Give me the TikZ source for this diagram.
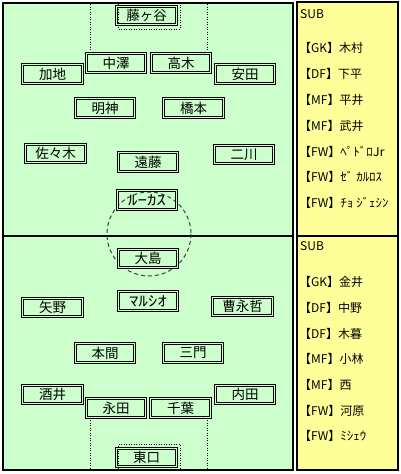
\documentclass[tikz,border=0pt]{standalone}
\usepackage{fontspec}
\usepackage{graphicx}
\setmainfont{Noto Sans CJK JP}
\definecolor{pitch}{HTML}{CCFFCC}
\definecolor{bench}{HTML}{FFFF99}
\newcommand{\hwide}[1]{\scalebox{1.4}[1.05]{#1}}
\newcommand{\hside}[1]{\scalebox{1.08}[1]{#1}}
\begin{document}
\begin{tikzpicture}[x=1pt,y=-1pt,
  player/.style={draw, line width=0.9pt, double=pitch, double distance=1.4pt,
    minimum width=59.5pt, minimum height=18.5pt, inner sep=0pt, outer sep=0pt,
    font=\fontsize{13.5}{13.5}\selectfont},
  subline/.style={anchor=west, inner sep=0pt, font=\fontsize{12}{12}\selectfont},
  panel/.style={draw, line width=2pt},
  pitchline/.style={line width=0.8pt, dash pattern=on 1pt off 1.5pt},
  circleline/.style={line width=1pt, draw=black!75, dash pattern=on 4pt off 3pt}]
\useasboundingbox (0,0) rectangle (400,474);
% panels
\draw[panel, fill=pitch] (3,3) rectangle (293,470);
\draw[line width=2pt] (3,236) -- (293,236);
\draw[panel, fill=bench] (297,2) rectangle (398,236);
\draw[panel, fill=bench] (297,236) rectangle (398,470);
% pitch markings
\draw[pitchline] (90.5,4) -- (90.5,52);
\draw[pitchline] (207,4) -- (207,52);
\draw[pitchline] (118.5,4) -- (118.5,29) -- (180,29) -- (180,4);
\draw[pitchline] (90.5,420) -- (90.5,469);
\draw[pitchline] (207,420) -- (207,469);
\draw[pitchline] (118.5,469) -- (118.5,444) -- (180,444) -- (180,469);
\draw[circleline] (149,234) circle[radius=42];
% top team
\node[player] (fujigaya) at (146.5,15.5) {藤ヶ谷};
\node[player] (nakazawa) at (116,63) {中澤};
\node[player] (takagi) at (181,63) {高木};
\node[player] (kaji) at (52.5,74) {加地};
\node[player] (yasuda) at (245,74) {安田};
\node[player] (myojin) at (105,108) {明神};
\node[player] (hashimoto) at (193.5,108) {橋本};
\node[player] (sasaki) at (55.5,153.5) {佐々木};
\node[player] (endo) at (148,162) {遠藤};
\node[player] (futagawa) at (244,154.5) {二川};
\node[player] (lucas) at (147,200) {\hwide{ﾙｰｶｽ}};
% bottom team
\node[player] (oshima) at (148,258.5) {大島};
\node[player] (marcio) at (148,301) {\hwide{ﾏﾙｼｵ}};
\node[player] (yano) at (52.5,307.5) {矢野};
\node[player] (so) at (242.5,306.5) {曹永哲};
\node[player] (honma) at (105,353) {本間};
\node[player] (sanmon) at (193,353) {三門};
\node[player] (sakai) at (52.5,394.5) {酒井};
\node[player] (uchida) at (245,394.5) {内田};
\node[player] (nagata) at (116,408) {永田};
\node[player] (chiba) at (180.5,408) {千葉};
\node[player] (higashiguchi) at (146.5,457.5) {東口};
% substitutes top
\node[subline] (subA) at (300,14) {SUB};
\node[subline] (a1) at (299,48) {【GK】木村};
\node[subline] (a2) at (299,74) {【DF】下平};
\node[subline] (a3) at (299,100) {【MF】平井};
\node[subline] (a4) at (299,126) {【MF】武井};
\node[subline] (a5) at (299,152) {【FW】\hside{ﾍﾟﾄﾞﾛJr}};
\node[subline] (a6) at (299,177) {【FW】\hside{ｾﾞ ｶﾙﾛｽ}};
\node[subline] (a7) at (299,203) {【FW】\hside{ﾁｮ ｼﾞｪｼﾝ}};
% substitutes bottom
\node[subline] (subB) at (300,246) {SUB};
\node[subline] (b1) at (299,282) {【GK】金井};
\node[subline] (b2) at (299,308) {【DF】中野};
\node[subline] (b3) at (299,334) {【DF】木暮};
\node[subline] (b4) at (299,359) {【MF】小林};
\node[subline] (b5) at (299,385) {【MF】西};
\node[subline] (b6) at (299,411) {【FW】河原};
\node[subline] (b7) at (299,436) {【FW】\hside{ﾐｼｪｳ}};
\end{tikzpicture}
\end{document}
